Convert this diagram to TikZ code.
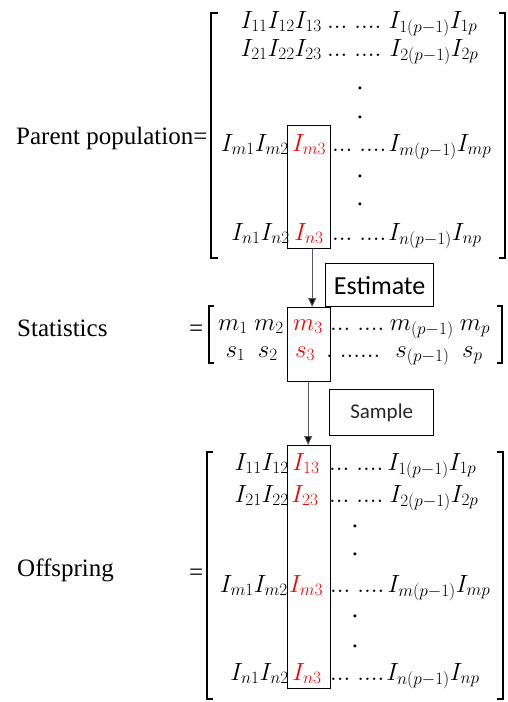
\documentclass[tikz,border=0pt]{standalone}
\usepackage{fontspec}
\setmainfont{Liberation Serif}
\newfontfamily\tnr{Liberation Serif}
\newfontfamily\calib{Carlito}
\usetikzlibrary{arrows.meta}
\newcommand\dts{$...\;....$}
\begin{document}
\begin{tikzpicture}[x=1pt,y=-1pt,
  mtx/.style={inner sep=0pt, font=\fontsize{25}{30}\selectfont},
  hl/.style={mtx, text=red},
  vdot/.style={inner sep=0pt, font=\fontsize{25}{30}\selectfont, anchor=base},
  lab/.style={inner sep=0pt, anchor=base west, font=\tnr\fontsize{25}{30}\selectfont},
  colbox/.style={draw, line width=1.3pt, inner sep=0pt, anchor=north west},
  tag/.style={draw, line width=1.3pt, inner sep=0pt, anchor=north west},
  brk/.style={line width=1.8pt},
  arr/.style={draw=black!65, line width=1pt, -{Triangle[length=9pt,width=8pt,fill=black]}}
]
\useasboundingbox (0,0) rectangle (507,702);

% ---------- labels ----------
\node[lab] (pp) at (16,144) {Parent population=};
\node[lab] (st) at (17,336) {Statistics};
\node[lab] (steq) at (189,336) {=};
\node[lab] (of) at (17,576) {Offspring};
\node[lab] (ofeq) at (189,580) {=};

% ---------- top matrix ----------
\draw[brk] (218,13) -- (211,13) -- (211,258) -- (218,258);
\draw[brk] (499,13) -- (505,13) -- (505,258) -- (499,258);
\node[colbox, minimum width=43, minimum height=123] (topbox) at (287,125) {};

\node[mtx, anchor=base east] (t1l) at (322,28) {$I_{11}I_{12}I_{13}$};
\node[mtx, anchor=base west] (t1d) at (327,28) {\dts};
\node[mtx, anchor=base] (t1r) at (433,28) {$I_{1(p-1)}I_{1p}$};

\node[mtx, anchor=base east] (t2l) at (322,56) {$I_{21}I_{22}I_{23}$};
\node[mtx, anchor=base west] (t2d) at (327,56) {\dts};
\node[mtx, anchor=base] (t2r) at (434,56) {$I_{2(p-1)}I_{2p}$};

\node[vdot] (td1) at (360,89) {.};
\node[vdot] (td2) at (360,118) {.};

\node[mtx, anchor=base east] (tml) at (289,151) {$I_{m1}I_{m2}$};
\node[hl, anchor=base] (tmc) at (309,151) {$I_{m3}$};
\node[mtx, anchor=base west] (tmd) at (332,151) {\dts};
\node[mtx, anchor=base] (tmr) at (440,151) {$I_{m(p-1)}I_{mp}$};

\node[vdot] (td3) at (360,177) {.};
\node[vdot] (td4) at (360,205) {.};

\node[mtx, anchor=base east] (tnl) at (290,240) {$I_{n1}I_{n2}$};
\node[hl, anchor=base] (tnc) at (309,240) {$I_{n3}$};
\node[mtx, anchor=base west] (tnd) at (332,240) {\dts};
\node[mtx, anchor=base] (tnr) at (435,240) {$I_{n(p-1)}I_{np}$};

% ---------- statistics ----------
\draw[brk] (214,306) -- (209,306) -- (209,363) -- (214,363);
\draw[brk] (497,306) -- (502,306) -- (502,363) -- (497,363);
\node[colbox, minimum width=43, minimum height=74] (statbox) at (287,307) {};

\node[mtx, anchor=base east] (sml) at (284,330) {$m_1\ m_2$};
\node[hl, anchor=base] (smc) at (308,330) {$m_3$};
\node[mtx, anchor=base west] (smd) at (330,330) {\dts};
\node[mtx, anchor=base] (smr) at (440,330) {$m_{(p-1)}\ m_p$};

\node[mtx, anchor=base east] (ssl) at (278,357) {$s_1\ \ s_2$};
\node[hl, anchor=base] (ssc) at (305,357) {$s_3$};
\node[mtx, anchor=base west] (ssd) at (326,357) {$.\;......$};
\node[mtx, anchor=base] (ssr) at (439,357) {$s_{(p-1)}\ \ s_p$};

% ---------- offspring ----------
\draw[brk] (213,452) -- (207,452) -- (207,699) -- (213,699);
\draw[brk] (497,452) -- (503,452) -- (503,699) -- (497,699);
\node[colbox, minimum width=43, minimum height=243] (offbox) at (287,445) {};

\node[mtx, anchor=base east] (o1l) at (289,470) {$I_{11}I_{12}$};
\node[hl, anchor=base] (o1c) at (306,470) {$I_{13}$};
\node[mtx, anchor=base west] (o1d) at (329,470) {\dts};
\node[mtx, anchor=base] (o1r) at (432,470) {$I_{1(p-1)}I_{1p}$};

\node[mtx, anchor=base east] (o2l) at (289,502) {$I_{21}I_{22}$};
\node[hl, anchor=base] (o2c) at (305,502) {$I_{23}$};
\node[mtx, anchor=base west] (o2d) at (329,502) {\dts};
\node[mtx, anchor=base] (o2r) at (434,502) {$I_{2(p-1)}I_{2p}$};

\node[vdot] (od1) at (355,527) {.};
\node[vdot] (od2) at (355,555) {.};

\node[mtx, anchor=base east] (oml) at (288,592) {$I_{m1}I_{m2}$};
\node[hl, anchor=base] (omc) at (306,592) {$I_{m3}$};
\node[mtx, anchor=base west] (omd) at (330,592) {\dts};
\node[mtx, anchor=base] (omr) at (439,592) {$I_{m(p-1)}I_{mp}$};

\node[vdot] (od3) at (355,617) {.};
\node[vdot] (od4) at (355,647) {.};

\node[mtx, anchor=base east] (onl) at (289,680) {$I_{n1}I_{n2}$};
\node[hl, anchor=base] (onc) at (307,680) {$I_{n3}$};
\node[mtx, anchor=base west] (ond) at (330,680) {\dts};
\node[mtx, anchor=base] (onr) at (433,680) {$I_{n(p-1)}I_{np}$};

% ---------- tags ----------
\node[tag, minimum width=108, minimum height=43, font=\calib\fontsize{26}{30}\selectfont] (est) at (325,263) {Estimate};
\node[tag, minimum width=104, minimum height=46, font=\calib\fontsize{21}{25}\selectfont, text=black!85] (smp) at (329,389) {Sample};

% ---------- arrows ----------
\draw[arr] ([xshift=3]topbox.south) -- ([xshift=3]statbox.north);
\draw[arr] ([xshift=-1]statbox.south) -- ([xshift=-1]offbox.north);
\end{tikzpicture}
\end{document}
